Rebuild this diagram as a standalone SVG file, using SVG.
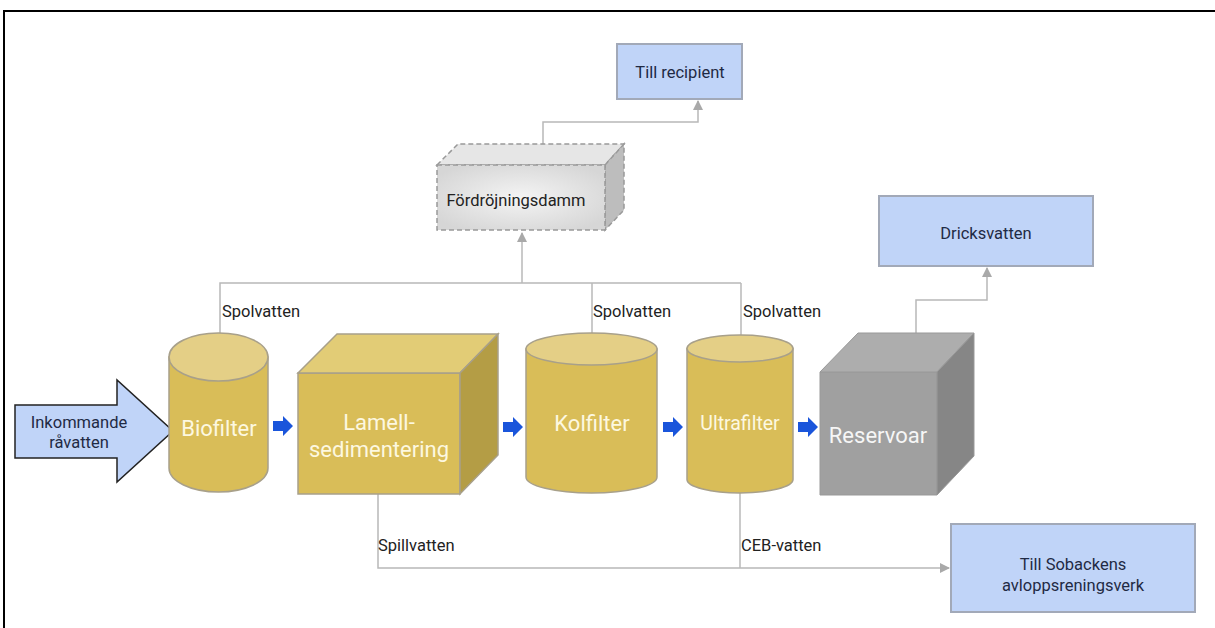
<svg xmlns="http://www.w3.org/2000/svg" width="1215" height="628" viewBox="0 0 1215 628">
<style>
  .lbl{font-family:Roboto,"Liberation Sans",sans-serif;font-size:16.5px;fill:#1f2a44}
  .cl{font-family:Roboto,"Liberation Sans",sans-serif;font-size:16.5px;fill:#222}
  .big{font-family:Roboto,"Liberation Sans",sans-serif;font-size:22px;fill:#fdf8e0;text-anchor:middle}
  .box{fill:#c0d4f8;stroke:#a2a9b8;stroke-width:2}
  .conn{fill:none;stroke:#b8b8b8;stroke-width:1.5}
  .ystroke{stroke:#a8a08a;stroke-width:1.5}
  .ybody{fill:#d9bd58}
  .ytop{fill:#e4cf86}
  .flow{fill:#1a55db}
</style>
<defs>
  <marker id="ah" markerWidth="10" markerHeight="10" refX="9" refY="5" orient="auto" markerUnits="userSpaceOnUse">
    <path d="M0,0 L10,5 L0,10 Z" fill="#a9a9a9"/>
  </marker>
  <radialGradient id="dg" cx="0.5" cy="0.5" r="0.6">
    <stop offset="0" stop-color="#f4f4f4"/>
    <stop offset="1" stop-color="#d6d6d6"/>
  </radialGradient>
  <path id="fa" d="M0,-5 L10,-5 L10,-10 L20,0 L10,10 L10,5 L0,5 Z"/>
</defs>

<!-- frame -->
<path d="M4,628 L4,11 L1215,11" fill="none" stroke="#000" stroke-width="2"/>

<g id="connectors">
  <path class="conn" d="M543,144 L543,122 L698,122 L698,101" marker-end="url(#ah)"/>
  <path class="conn" d="M220,333 L220,283 L741,283"/>
  <path class="conn" d="M592,333 L592,283"/>
  <path class="conn" d="M741,335 L741,283"/>
  <path class="conn" d="M522,283 L522,233" marker-end="url(#ah)"/>
  <path class="conn" d="M916,333 L916,300 L987,300 L987,268" marker-end="url(#ah)"/>
  <path class="conn" d="M378,494 L378,568 L949,568" marker-end="url(#ah)"/>
  <path class="conn" d="M740,493 L740,568"/>
  <use href="#fa" class="flow" x="273" y="426"/>
  <use href="#fa" class="flow" x="503" y="427"/>
  <use href="#fa" class="flow" x="663" y="427"/>
  <use href="#fa" class="flow" x="798" y="427"/>
  <text class="cl" x="222" y="317">Spolvatten</text>
  <text class="cl" x="593" y="317">Spolvatten</text>
  <text class="cl" x="743" y="317">Spolvatten</text>
  <text class="cl" x="378" y="551">Spillvatten</text>
  <text class="cl" x="741" y="551">CEB-vatten</text>
</g>

<g id="inkommande">
  <path d="M15,405 L117,405 L117,380 L173,431 L117,482 L117,458 L15,458 Z" fill="#c0d4f8" stroke="#222" stroke-width="1.5"/>
  <text class="lbl" x="79" y="428" text-anchor="middle">Inkommande</text>
  <text class="lbl" x="79" y="448" text-anchor="middle">råvatten</text>
</g>

<g id="biofilter">
  <path class="ybody ystroke" d="M169,357 L169,468 A49.5,24 0 0 0 268,468 L268,357 Z"/>
  <ellipse class="ytop ystroke" cx="218.5" cy="357" rx="49.5" ry="24"/>
  <text class="big" x="219" y="436">Biofilter</text>
</g>

<g id="lamell">
  <path class="ybody ystroke" d="M298,373 L460,373 L460,494 L298,494 Z"/>
  <path fill="#e2cc76" class="ystroke" d="M298,373 L337,334 L498,334 L460,373 Z"/>
  <path fill="#b49d45" class="ystroke" d="M460,373 L498,334 L498,455 L460,494 Z"/>
  <text class="big" x="379" y="430">Lamell-</text>
  <text class="big" x="379" y="457">sedimentering</text>
</g>

<g id="kolfilter">
  <path class="ybody ystroke" d="M526,349 L526,477 A65.5,16 0 0 0 657,477 L657,349 Z"/>
  <ellipse class="ytop ystroke" cx="591.5" cy="349" rx="65.5" ry="16"/>
  <text class="big" x="592" y="431">Kolfilter</text>
</g>

<g id="ultrafilter">
  <path class="ybody ystroke" d="M687,348.5 L687,479.5 A53,13.5 0 0 0 793,479.5 L793,348.5 Z"/>
  <ellipse class="ytop ystroke" cx="740" cy="348.5" rx="53" ry="13.5"/>
  <text class="big" x="740" y="430" style="font-size:19.5px">Ultrafilter</text>
</g>

<g id="reservoar">
  <path d="M820,372 L937,372 L937,495 L820,495 Z" fill="#a0a0a0" stroke="#999" stroke-width="1"/>
  <path d="M820,372 L858,333 L974,333 L937,372 Z" fill="#adadad" stroke="#999" stroke-width="1"/>
  <path d="M937,372 L974,333 L974,456 L937,495 Z" fill="#868686" stroke="#999" stroke-width="1"/>
  <text class="big" x="878" y="443" style="fill:#f6f6f6">Reservoar</text>
</g>

<g id="fordrojningsdamm">
  <path d="M437,165 L458,144 L624,144 L605,165 Z" fill="#e6e6e6" stroke="#999" stroke-width="1.5" stroke-dasharray="5,3"/>
  <path d="M605,165 L624,144 L624,210 L605,230 Z" fill="#bdbdbd" stroke="#999" stroke-width="1.5" stroke-dasharray="5,3"/>
  <rect x="437" y="165" width="168" height="65" fill="url(#dg)" stroke="#999" stroke-width="1.5" stroke-dasharray="5,3"/>
  <text class="cl" x="516" y="206" text-anchor="middle">Fördröjningsdamm</text>
</g>

<g id="till-recipient">
  <rect class="box" x="617" y="44" width="125" height="55"/>
  <text class="lbl" x="680" y="78" text-anchor="middle">Till recipient</text>
</g>

<g id="dricksvatten">
  <rect class="box" x="879" y="196" width="214" height="70"/>
  <text class="lbl" x="986" y="239" text-anchor="middle">Dricksvatten</text>
</g>

<g id="sobacken">
  <rect class="box" x="951" y="524" width="244" height="88"/>
  <text class="lbl" x="1073" y="570" text-anchor="middle">Till Sobackens</text>
  <text class="lbl" x="1073" y="591" text-anchor="middle">avloppsreningsverk</text>
</g>
</svg>
